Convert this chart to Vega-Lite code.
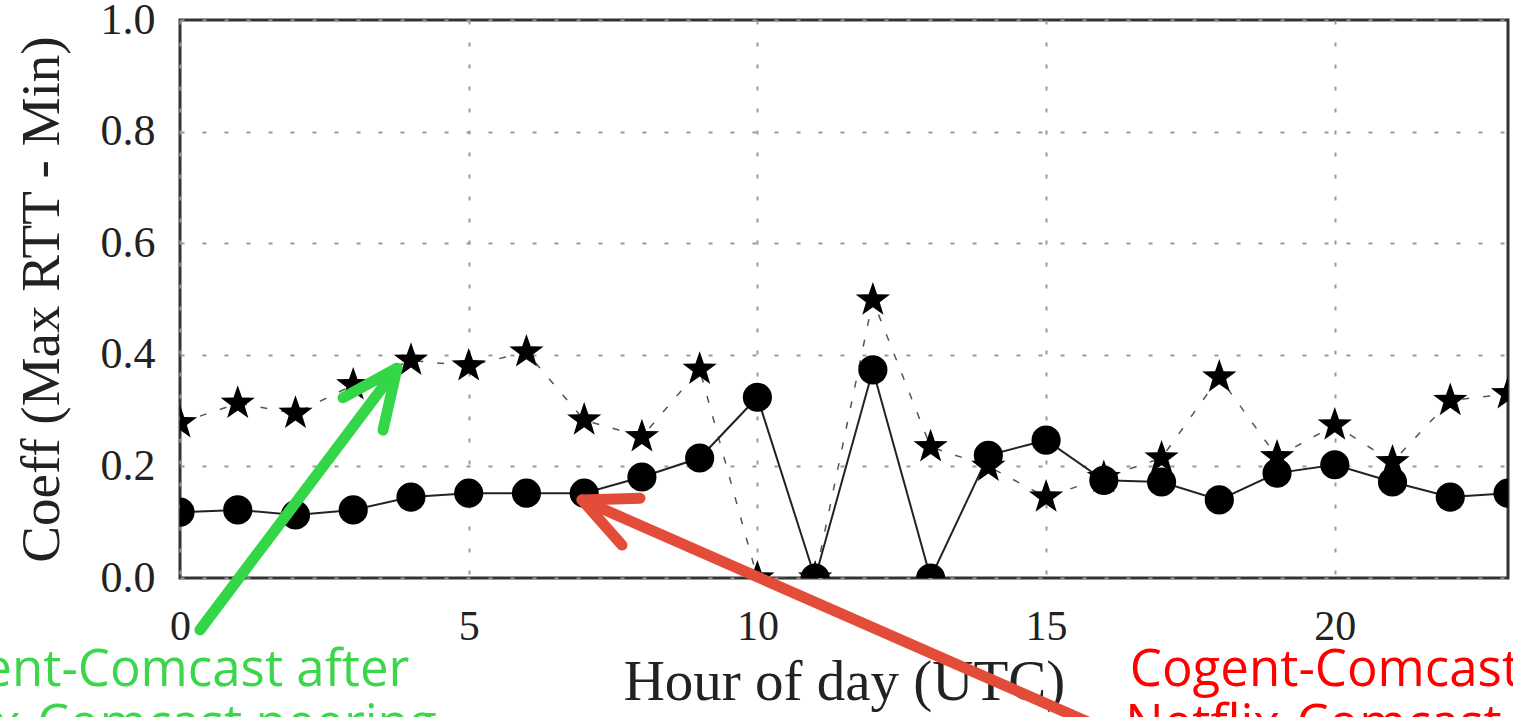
{
  "$schema": "https://vega.github.io/schema/vega-lite/v6.json",
  "width": 1328,
  "height": 558,
  "autosize": {"type": "none"},
  "padding": {"left": 180, "top": 20, "right": 5, "bottom": 139},
  "background": "white",
  "config": {
    "view": {"stroke": "#333", "strokeWidth": 3},
    "axis": {
      "labelFont": "Liberation Serif",
      "titleFont": "Liberation Serif",
      "labelColor": "#222",
      "titleColor": "#222",
      "titleFontWeight": "normal",
      "gridColor": "#999",
      "gridDash": [4, 18],
      "gridWidth": 2
    }
  },
  "datasets": {
    "series": [
      {"hour": 0, "coef": 0.118, "kind": "before"},
      {"hour": 1, "coef": 0.122, "kind": "before"},
      {"hour": 2, "coef": 0.113, "kind": "before"},
      {"hour": 3, "coef": 0.122, "kind": "before"},
      {"hour": 4, "coef": 0.145, "kind": "before"},
      {"hour": 5, "coef": 0.152, "kind": "before"},
      {"hour": 6, "coef": 0.152, "kind": "before"},
      {"hour": 7, "coef": 0.152, "kind": "before"},
      {"hour": 8, "coef": 0.181, "kind": "before"},
      {"hour": 9, "coef": 0.215, "kind": "before"},
      {"hour": 10, "coef": 0.324, "kind": "before"},
      {"hour": 11, "coef": 0.0, "kind": "before"},
      {"hour": 12, "coef": 0.373, "kind": "before"},
      {"hour": 13, "coef": 0.0, "kind": "before"},
      {"hour": 14, "coef": 0.22, "kind": "before"},
      {"hour": 15, "coef": 0.247, "kind": "before"},
      {"hour": 16, "coef": 0.175, "kind": "before"},
      {"hour": 17, "coef": 0.172, "kind": "before"},
      {"hour": 18, "coef": 0.14, "kind": "before"},
      {"hour": 19, "coef": 0.188, "kind": "before"},
      {"hour": 20, "coef": 0.203, "kind": "before"},
      {"hour": 21, "coef": 0.172, "kind": "before"},
      {"hour": 22, "coef": 0.145, "kind": "before"},
      {"hour": 23, "coef": 0.152, "kind": "before"},
      {"hour": 0, "coef": 0.278, "kind": "after"},
      {"hour": 1, "coef": 0.313, "kind": "after"},
      {"hour": 2, "coef": 0.295, "kind": "after"},
      {"hour": 3, "coef": 0.346, "kind": "after"},
      {"hour": 4, "coef": 0.39, "kind": "after"},
      {"hour": 5, "coef": 0.38, "kind": "after"},
      {"hour": 6, "coef": 0.405, "kind": "after"},
      {"hour": 7, "coef": 0.283, "kind": "after"},
      {"hour": 8, "coef": 0.253, "kind": "after"},
      {"hour": 9, "coef": 0.374, "kind": "after"},
      {"hour": 10, "coef": 0.0, "kind": "after"},
      {"hour": 11, "coef": 0.0, "kind": "after"},
      {"hour": 12, "coef": 0.498, "kind": "after"},
      {"hour": 13, "coef": 0.235, "kind": "after"},
      {"hour": 14, "coef": 0.2, "kind": "after"},
      {"hour": 15, "coef": 0.145, "kind": "after"},
      {"hour": 16, "coef": 0.18, "kind": "after"},
      {"hour": 17, "coef": 0.215, "kind": "after"},
      {"hour": 18, "coef": 0.36, "kind": "after"},
      {"hour": 19, "coef": 0.217, "kind": "after"},
      {"hour": 20, "coef": 0.274, "kind": "after"},
      {"hour": 21, "coef": 0.208, "kind": "after"},
      {"hour": 22, "coef": 0.318, "kind": "after"},
      {"hour": 23, "coef": 0.33, "kind": "after"}
    ],
    "arrows": [
      {"arrow": "green", "part": "g_shaft", "ord": 0, "hour": 0.346, "coef": -0.093},
      {"arrow": "green", "part": "g_shaft", "ord": 1, "hour": 3.758, "coef": 0.376},
      {"arrow": "green", "part": "g_head", "ord": 0, "hour": 2.823, "coef": 0.323},
      {"arrow": "green", "part": "g_head", "ord": 1, "hour": 3.758, "coef": 0.376},
      {"arrow": "green", "part": "g_head", "ord": 2, "hour": 3.516, "coef": 0.265},
      {"arrow": "red", "part": "r_shaft", "ord": 0, "hour": 16.626, "coef": -0.299},
      {"arrow": "red", "part": "r_shaft", "ord": 1, "hour": 6.962, "coef": 0.14},
      {"arrow": "red", "part": "r_head", "ord": 0, "hour": 7.967, "coef": 0.143},
      {"arrow": "red", "part": "r_head", "ord": 1, "hour": 6.962, "coef": 0.14},
      {"arrow": "red", "part": "r_head", "ord": 2, "hour": 7.655, "coef": 0.059}
    ],
    "notes": [
      {"note": "green", "label": "Cogent-Comcast after", "hour": -0.5, "coef": -0.194},
      {"note": "green", "label": "Netflix-Comcast peering", "hour": -0.5, "coef": -0.292},
      {"note": "red", "label": "Cogent-Comcast before", "hour": 16.45, "coef": -0.194},
      {"note": "red", "label": "Netflix-Comcast peering", "hour": 16.37, "coef": -0.292}
    ]
  },
  "layer": [
    {
      "data": {"name": "series"},
      "transform": [{"filter": "datum.kind === 'after'"}],
      "mark": {"type": "line", "color": "#555", "strokeWidth": 1.5, "strokeDash": [7, 14], "clip": true},
      "encoding": {
        "x": {
          "field": "hour",
          "type": "quantitative",
          "scale": {"domain": [0, 23], "nice": false, "zero": false},
          "axis": {
            "values": [0, 5, 10, 15, 20],
            "format": "d",
            "title": "Hour of day (UTC)",
            "grid": true,
            "ticks": false,
            "domain": false,
            "labelFlush": false,
            "labelFontSize": 42,
            "labelPadding": 28,
            "titleFontSize": 57,
            "titlePadding": 7
          }
        },
        "y": {
          "field": "coef",
          "type": "quantitative",
          "scale": {"domain": [0, 1], "nice": false, "zero": false},
          "axis": {
            "values": [0, 0.2, 0.4, 0.6, 0.8, 1.0],
            "format": ".1f",
            "title": "Coeff (Max RTT - Min)",
            "grid": true,
            "ticks": false,
            "domain": false,
            "labelFlush": false,
            "labelFontSize": 44,
            "labelPadding": 25,
            "titleFontSize": 55,
            "titlePadding": 30
          }
        }
      }
    },
    {
      "data": {"name": "series"},
      "transform": [{"filter": "datum.kind === 'before'"}],
      "mark": {"type": "line", "color": "#222", "strokeWidth": 2, "clip": true},
      "encoding": {
        "x": {"field": "hour", "type": "quantitative"},
        "y": {"field": "coef", "type": "quantitative"}
      }
    },
    {
      "data": {"name": "series"},
      "transform": [{"filter": "datum.kind === 'after'"}],
      "mark": {"type": "point", "shape": "M0,-1L0.235,-0.324L0.951,-0.309L0.38,0.124L0.588,0.809L0,0.4L-0.588,0.809L-0.38,0.124L-0.951,-0.309L-0.235,-0.324Z", "filled": true, "color": "#000", "opacity": 1, "size": 1300, "clip": true},
      "encoding": {
        "x": {"field": "hour", "type": "quantitative"},
        "y": {"field": "coef", "type": "quantitative"}
      }
    },
    {
      "data": {"name": "series"},
      "transform": [{"filter": "datum.kind === 'before'"}],
      "mark": {"type": "point", "shape": "circle", "filled": true, "color": "#000", "opacity": 1, "size": 850, "clip": true},
      "encoding": {
        "x": {"field": "hour", "type": "quantitative"},
        "y": {"field": "coef", "type": "quantitative"}
      }
    },
    {
      "data": {"name": "arrows"},
      "transform": [{"filter": "datum.arrow === 'green'"}],
      "mark": {"type": "line", "color": "#33d646", "strokeWidth": 11, "strokeCap": "round", "strokeJoin": "round"},
      "encoding": {
        "x": {"field": "hour", "type": "quantitative"},
        "y": {"field": "coef", "type": "quantitative"},
        "detail": {"field": "part", "type": "nominal"},
        "order": {"field": "ord", "type": "quantitative"}
      }
    },
    {
      "data": {"name": "arrows"},
      "transform": [{"filter": "datum.arrow === 'red'"}],
      "mark": {"type": "line", "color": "#e44c3a", "strokeWidth": 11, "strokeCap": "round", "strokeJoin": "round"},
      "encoding": {
        "x": {"field": "hour", "type": "quantitative"},
        "y": {"field": "coef", "type": "quantitative"},
        "detail": {"field": "part", "type": "nominal"},
        "order": {"field": "ord", "type": "quantitative"}
      }
    },
    {
      "data": {"name": "notes"},
      "transform": [{"filter": "datum.note === 'green'"}],
      "mark": {"type": "text", "align": "center", "baseline": "alphabetic", "font": "Open Sans", "fontSize": 51, "color": "#3cd64b"},
      "encoding": {
        "x": {"field": "hour", "type": "quantitative"},
        "y": {"field": "coef", "type": "quantitative"},
        "text": {"field": "label", "type": "nominal"}
      }
    },
    {
      "data": {"name": "notes"},
      "transform": [{"filter": "datum.note === 'red'"}],
      "mark": {"type": "text", "align": "left", "baseline": "alphabetic", "font": "Open Sans", "fontSize": 51, "color": "#ff0000"},
      "encoding": {
        "x": {"field": "hour", "type": "quantitative"},
        "y": {"field": "coef", "type": "quantitative"},
        "text": {"field": "label", "type": "nominal"}
      }
    }
  ]
}
